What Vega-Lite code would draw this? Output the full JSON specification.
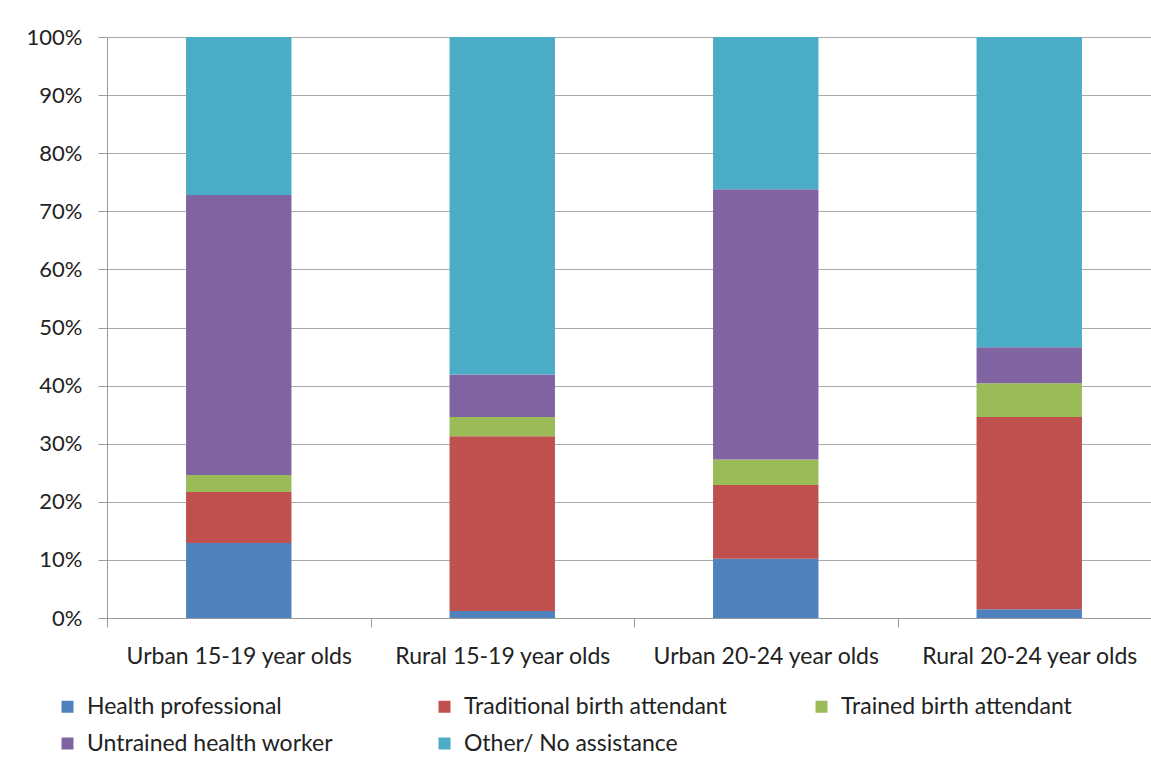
{
  "$schema": "https://vega.github.io/schema/vega-lite/v6.json",
  "autosize": {"type": "none"},
  "padding": {"left": 107, "top": 37, "right": 0, "bottom": 154},
  "width": 1054,
  "height": 581,
  "background": "white",
  "config": {
    "font": "Lato",
    "view": {"stroke": null},
    "axis": {"labelFont": "Lato", "labelColor": "#222222", "labelFontSize": 22}
  },
  "data": {
    "values": [
      {"group": "Urban 15-19 year olds", "category": "Health professional", "order": 1, "value": 12.9},
      {"group": "Urban 15-19 year olds", "category": "Traditional birth attendant", "order": 2, "value": 8.8},
      {"group": "Urban 15-19 year olds", "category": "Trained birth attendant", "order": 3, "value": 2.9},
      {"group": "Urban 15-19 year olds", "category": "Untrained health worker", "order": 4, "value": 48.2},
      {"group": "Urban 15-19 year olds", "category": "Other/ No assistance", "order": 5, "value": 27.2},
      {"group": "Rural 15-19 year olds", "category": "Health professional", "order": 1, "value": 1.2},
      {"group": "Rural 15-19 year olds", "category": "Traditional birth attendant", "order": 2, "value": 30.1},
      {"group": "Rural 15-19 year olds", "category": "Trained birth attendant", "order": 3, "value": 3.3},
      {"group": "Rural 15-19 year olds", "category": "Untrained health worker", "order": 4, "value": 7.3},
      {"group": "Rural 15-19 year olds", "category": "Other/ No assistance", "order": 5, "value": 58.1},
      {"group": "Urban 20-24 year olds", "category": "Health professional", "order": 1, "value": 10.2},
      {"group": "Urban 20-24 year olds", "category": "Traditional birth attendant", "order": 2, "value": 12.7},
      {"group": "Urban 20-24 year olds", "category": "Trained birth attendant", "order": 3, "value": 4.4},
      {"group": "Urban 20-24 year olds", "category": "Untrained health worker", "order": 4, "value": 46.5},
      {"group": "Urban 20-24 year olds", "category": "Other/ No assistance", "order": 5, "value": 26.2},
      {"group": "Rural 20-24 year olds", "category": "Health professional", "order": 1, "value": 1.5},
      {"group": "Rural 20-24 year olds", "category": "Traditional birth attendant", "order": 2, "value": 33.1},
      {"group": "Rural 20-24 year olds", "category": "Trained birth attendant", "order": 3, "value": 5.8},
      {"group": "Rural 20-24 year olds", "category": "Untrained health worker", "order": 4, "value": 6.2},
      {"group": "Rural 20-24 year olds", "category": "Other/ No assistance", "order": 5, "value": 53.4}
    ]
  },
  "mark": {"type": "bar", "width": {"band": 0.4}},
  "encoding": {
    "x": {
      "field": "group",
      "type": "nominal",
      "sort": ["Urban 15-19 year olds", "Rural 15-19 year olds", "Urban 20-24 year olds", "Rural 20-24 year olds"],
      "scale": {"paddingInner": 0, "paddingOuter": 0},
      "axis": {
        "title": null,
        "labelAngle": 0,
        "labelFontSize": 23,
        "tickBand": "extent",
        "tickSize": 9,
        "tickColor": "#999999",
        "domainColor": "#999999",
        "labelPadding": 18,
        "labelLimit": 300
      }
    },
    "y": {
      "field": "value",
      "type": "quantitative",
      "stack": "normalize",
      "scale": {"domain": [0, 1]},
      "axis": {
        "title": null,
        "format": ".0%",
        "values": [0, 0.1, 0.2, 0.3, 0.4, 0.5, 0.6, 0.7, 0.8, 0.9, 1],
        "labelOverlap": false,
        "grid": true,
        "gridColor": "#aaaaaa",
        "gridWidth": 1.2,
        "tickSize": 9,
        "tickColor": "#999999",
        "domainColor": "#999999",
        "labelPadding": 16
      }
    },
    "color": {
      "field": "category",
      "type": "nominal",
      "sort": ["Health professional", "Traditional birth attendant", "Trained birth attendant", "Untrained health worker", "Other/ No assistance"],
      "scale": {
        "domain": ["Health professional", "Traditional birth attendant", "Trained birth attendant", "Untrained health worker", "Other/ No assistance"],
        "range": ["#4F81BD", "#C0504D", "#9BBB59", "#8064A2", "#4BACC6"]
      },
      "legend": {
        "title": null,
        "orient": "none",
        "legendX": -51,
        "legendY": 658,
        "direction": "horizontal",
        "columns": 3,
        "gridAlign": "all",
        "symbolType": "square",
        "symbolSize": 144,
        "symbolStrokeWidth": 0,
        "labelFontSize": 23,
        "labelFont": "Lato",
        "labelColor": "#222222",
        "labelOffset": 8,
        "labelLimit": 400,
        "columnPadding": 83,
        "rowPadding": 13
      }
    },
    "order": {"field": "order", "type": "quantitative"}
  }
}
